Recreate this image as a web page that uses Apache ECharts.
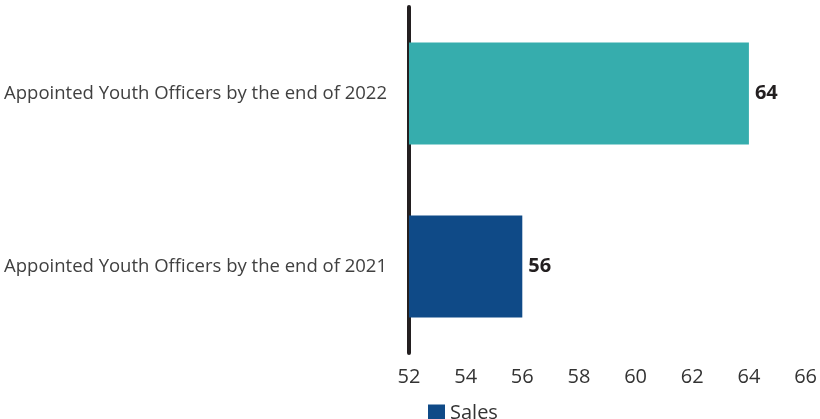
<!DOCTYPE html>
<html>
<head>
<meta charset="utf-8">
<script src="https://cdn.jsdelivr.net/npm/echarts@6/dist/echarts.min.js"></script>
<style>
  html, body { margin: 0; padding: 0; background: #fff; }
  #chart { width: 820px; height: 419px; }
</style>
</head>
<body>
<div id="chart"></div>
<script>
// Categories listed bottom-to-top (category axis grows upward)
const categories = [
  'Appointed Youth Officers by the end of 2021',
  'Appointed Youth Officers by the end of 2022'
];
const salesValues = [56, 64];
const barColors = ['#0F4A87', '#36ADAD'];
const xTicks = [52, 54, 56, 58, 60, 62, 64, 66];

const chart = echarts.init(document.getElementById('chart'), null, { renderer: 'canvas' });

chart.setOption({
  animation: false,
  textStyle: { fontFamily: 'Open Sans' },
  grid: { left: 409, right: 13, top: 7, bottom: 66, containLabel: false },
  legend: {
    data: [{ name: 'Sales', icon: 'rect', itemStyle: { color: barColors[0] } }],
    left: 423,
    top: 398,
    itemWidth: 17,
    itemHeight: 17,
    itemGap: 7,
    textStyle: { fontSize: 20, color: '#333', fontFamily: 'Open Sans' }
  },
  xAxis: {
    type: 'value',
    min: xTicks[0],
    max: xTicks[xTicks.length - 1],
    interval: 2,
    axisLine: { show: false },
    axisTick: { show: false },
    splitLine: { show: false },
    axisLabel: { fontSize: 20, color: '#333', margin: 14, fontFamily: 'Open Sans' }
  },
  yAxis: {
    type: 'category',
    data: categories,
    axisLine: { show: true, lineStyle: { color: '#231F20', width: 4 } },
    axisTick: { show: false },
    axisLabel: { fontSize: 18.5, color: '#404040', margin: 22, fontFamily: 'Open Sans' }
  },
  series: [{
    name: 'Sales',
    type: 'bar',
    data: salesValues.map((v, i) => ({ value: v, itemStyle: { color: barColors[i] } })),
    barCategoryGap: '41%',
    label: {
      show: true,
      position: 'right',
      distance: 6,
      fontSize: 20,
      fontWeight: 'bold',
      color: '#231F20',
      fontFamily: 'Open Sans'
    }
  }]
});
</script>
</body>
</html>
